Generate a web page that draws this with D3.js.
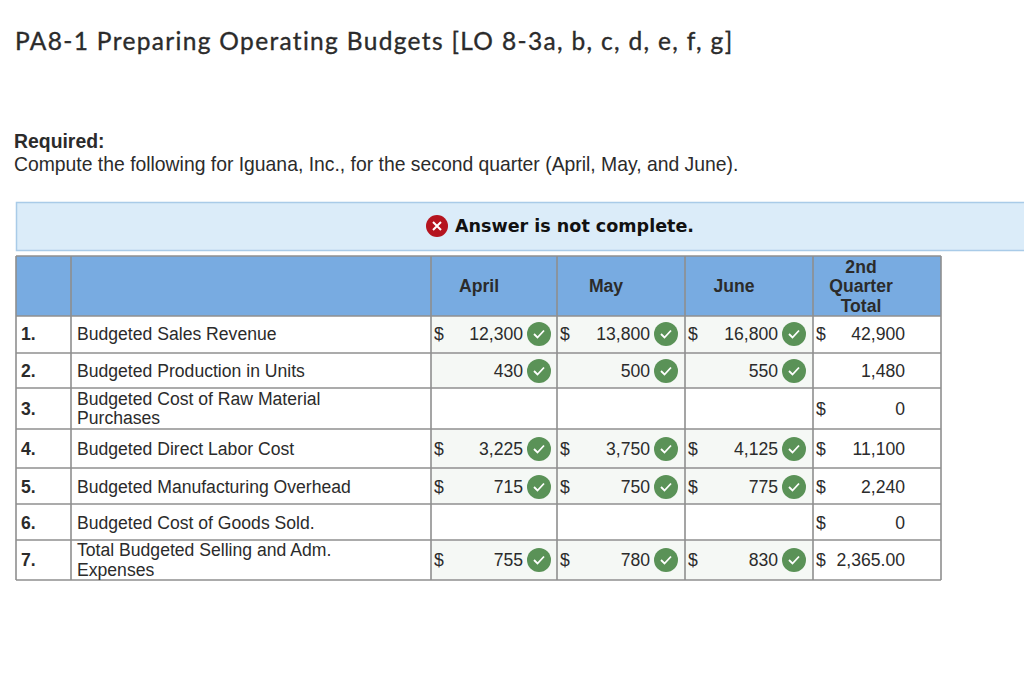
<!DOCTYPE html>
<html>
<head>
<meta charset="utf-8">
<script src="https://cdn.jsdelivr.net/npm/d3@7"></script>
<style>
body { margin: 0; background: #fff; }
svg { display: block; }
text { font-family: "Liberation Sans", Arial, sans-serif; fill: #2b2b2b; }
</style>
</head>
<body>
<div id="chart"></div>
<script>
// values
var rowNumbers = ['1.', '2.', '3.', '4.', '5.', '6.', '7.'];
var rowLabels = [
    ['Budgeted Sales Revenue'],
    ['Budgeted Production in Units'],
    ['Budgeted Cost of Raw Material', 'Purchases'],
    ['Budgeted Direct Labor Cost'],
    ['Budgeted Manufacturing Overhead'],
    ['Budgeted Cost of Goods Sold.'],
    ['Total Budgeted Selling and Adm.', 'Expenses']
];
var months = ['April', 'May', 'June'];
var april = ['12,300', '430', '', '3,225', '715', '', '755'];
var may = ['13,800', '500', '', '3,750', '750', '', '780'];
var june = ['16,800', '550', '', '4,125', '775', '', '830'];
var quarterTotal = ['42,900', '1,480', '0', '11,100', '2,240', '0', '2,365.00'];
var totalHeader = ['2nd', 'Quarter', 'Total'];
var monthDollar = [true, false, false, true, true, false, true];
var totalDollar = [true, false, true, true, true, true, true];

// layout
var width = 1024, height = 692;
var columnEdges = [16, 71, 431, 557, 685, 813, 941];
var rowEdges = [256, 316, 353, 388, 429, 468, 504, 540, 580];
var rowCentres = [334, 371, 408.5, 449, 487, 523, 560];
var grid = '#8f8f8f';
var body = 17.6;

var svg = d3.select('#chart').append('svg')
    .attr('width', width)
    .attr('height', height);

svg.append('text')
    .attr('x', 15)
    .attr('y', 50)
    .attr('font-size', 24.5)
    .attr('letter-spacing', 1.33)
    .attr('stroke', '#2b2b2b')
    .attr('stroke-width', 0.35)
    .style('font-family', 'Lato')
    .text('PA8-1 Preparing Operating Budgets [LO 8-3a, b, c, d, e, f, g]');

svg.append('text')
    .attr('x', 14)
    .attr('y', 148)
    .attr('font-size', 19.4)
    .attr('font-weight', 'bold')
    .text('Required:');

svg.append('text')
    .attr('x', 14)
    .attr('y', 171)
    .attr('font-size', 19.35)
    .text('Compute the following for Iguana, Inc., for the second quarter (April, May, and June).');

// banner
svg.append('rect')
    .attr('x', 16.5)
    .attr('y', 202.5)
    .attr('width', width)
    .attr('height', 48)
    .attr('fill', '#dbecf9')
    .attr('stroke', '#a9cbe8')
    .attr('stroke-width', 1.5);

function drawIcon(g, cx, cy, r, fill) {
    g.append('circle')
        .attr('cx', cx)
        .attr('cy', cy)
        .attr('r', r)
        .attr('fill', fill);
}

var banner = svg.append('g');
drawIcon(banner, 437, 226, 11, '#b5141f');
banner.append('path')
    .attr('d', d3.line()([[433, 222], [441, 230]]) + d3.line()([[441, 222], [433, 230]]))
    .attr('stroke', '#fff')
    .attr('stroke-width', 2)
    .attr('fill', 'none');
banner.append('text')
    .attr('x', 455)
    .attr('y', 232)
    .attr('font-size', 17.55)
    .attr('font-weight', 'bold')
    .style('font-family', 'DejaVu Sans')
    .style('fill', '#111')
    .text('Answer is not complete.');

// header band
svg.append('rect')
    .attr('x', columnEdges[0])
    .attr('y', rowEdges[0])
    .attr('width', columnEdges[6] - columnEdges[0])
    .attr('height', rowEdges[1] - rowEdges[0])
    .attr('fill', '#78abe1');

// tinted answer cells
var monthColumns = [april, may, june];
monthColumns.forEach(function(values, c) {
    svg.append('g').selectAll('rect')
        .data(values)
        .join('rect')
        .attr('x', columnEdges[c + 2])
        .attr('y', function(d, i) { return rowEdges[i + 1]; })
        .attr('width', columnEdges[c + 3] - columnEdges[c + 2])
        .attr('height', function(d, i) { return rowEdges[i + 2] - rowEdges[i + 1]; })
        .attr('fill', function(d) { return d ? '#f5f8f5' : '#fff'; });
});

// grid lines
svg.append('g').selectAll('line')
    .data(columnEdges)
    .join('line')
    .attr('x1', function(d) { return d; })
    .attr('x2', function(d) { return d; })
    .attr('y1', rowEdges[0])
    .attr('y2', rowEdges[8])
    .attr('stroke', grid)
    .attr('stroke-width', 1.6);

svg.append('g').selectAll('line')
    .data(rowEdges)
    .join('line')
    .attr('x1', columnEdges[0])
    .attr('x2', columnEdges[6])
    .attr('y1', function(d) { return d; })
    .attr('y2', function(d) { return d; })
    .attr('stroke', grid)
    .attr('stroke-width', 1.6);

// header text
var header = svg.append('g')
    .attr('font-size', body)
    .attr('font-weight', 'bold')
    .attr('text-anchor', 'middle');

header.selectAll('text.month')
    .data(months)
    .join('text')
    .attr('class', 'month')
    .attr('x', function(d, i) { return (columnEdges[i + 2] + columnEdges[i + 3]) / 2 - 15; })
    .attr('y', 292)
    .text(function(d) { return d; });

header.selectAll('text.total')
    .data(totalHeader)
    .join('text')
    .attr('class', 'total')
    .attr('x', 861)
    .attr('y', function(d, i) { return 273 + i * 19.3; })
    .text(function(d) { return d; });

// row text
svg.append('g').selectAll('text')
    .data(rowNumbers)
    .join('text')
    .attr('x', 21)
    .attr('y', function(d, i) { return rowCentres[i] + 6; })
    .attr('font-size', 17.6)
    .attr('font-weight', 'bold')
    .text(function(d) { return d; });

rowLabels.forEach(function(lines, i) {
    svg.append('g').selectAll('text')
        .data(lines)
        .join('text')
        .attr('x', 77)
        .attr('y', function(d, k) {
            return rowCentres[i] + 6 + (lines.length > 1 ? (k - 0.5) * 19.5 : 0);
        })
        .attr('font-size', body)
        .text(function(d) { return d; });
});

function drawCheck(g, cx, cy) {
    drawIcon(g, cx, cy, 12, '#5a9257');
    g.append('path')
        .attr('d', d3.line()([[cx - 5, cy], [cx - 1.5, cy + 3.5], [cx + 5, cy - 3.5]]))
        .attr('stroke', '#fff')
        .attr('stroke-width', 1.8)
        .attr('fill', 'none');
}

// month values
var valueRight = [523, 650, 778];
monthColumns.forEach(function(values, c) {
    var g = svg.append('g');
    values.forEach(function(v, i) {
        if (!v) return;
        var y = rowCentres[i];
        if (monthDollar[i]) {
            g.append('text')
                .attr('x', columnEdges[c + 2] + 3)
                .attr('y', y + 6)
                .attr('font-size', body)
                .text('$');
        }
        g.append('text')
            .attr('x', valueRight[c])
            .attr('y', y + 6)
            .attr('text-anchor', 'end')
            .attr('font-size', body)
            .text(v);
        drawCheck(g, valueRight[c] + 16, y);
    });
});

// total column
var totals = svg.append('g');
quarterTotal.forEach(function(v, i) {
    var y = rowCentres[i];
    if (totalDollar[i]) {
        totals.append('text')
            .attr('x', columnEdges[5] + 3)
            .attr('y', y + 6)
            .attr('font-size', body)
            .text('$');
    }
    totals.append('text')
        .attr('x', 905)
        .attr('y', y + 6)
        .attr('text-anchor', 'end')
        .attr('font-size', body)
        .text(v);
});
</script>
</body>
</html>
